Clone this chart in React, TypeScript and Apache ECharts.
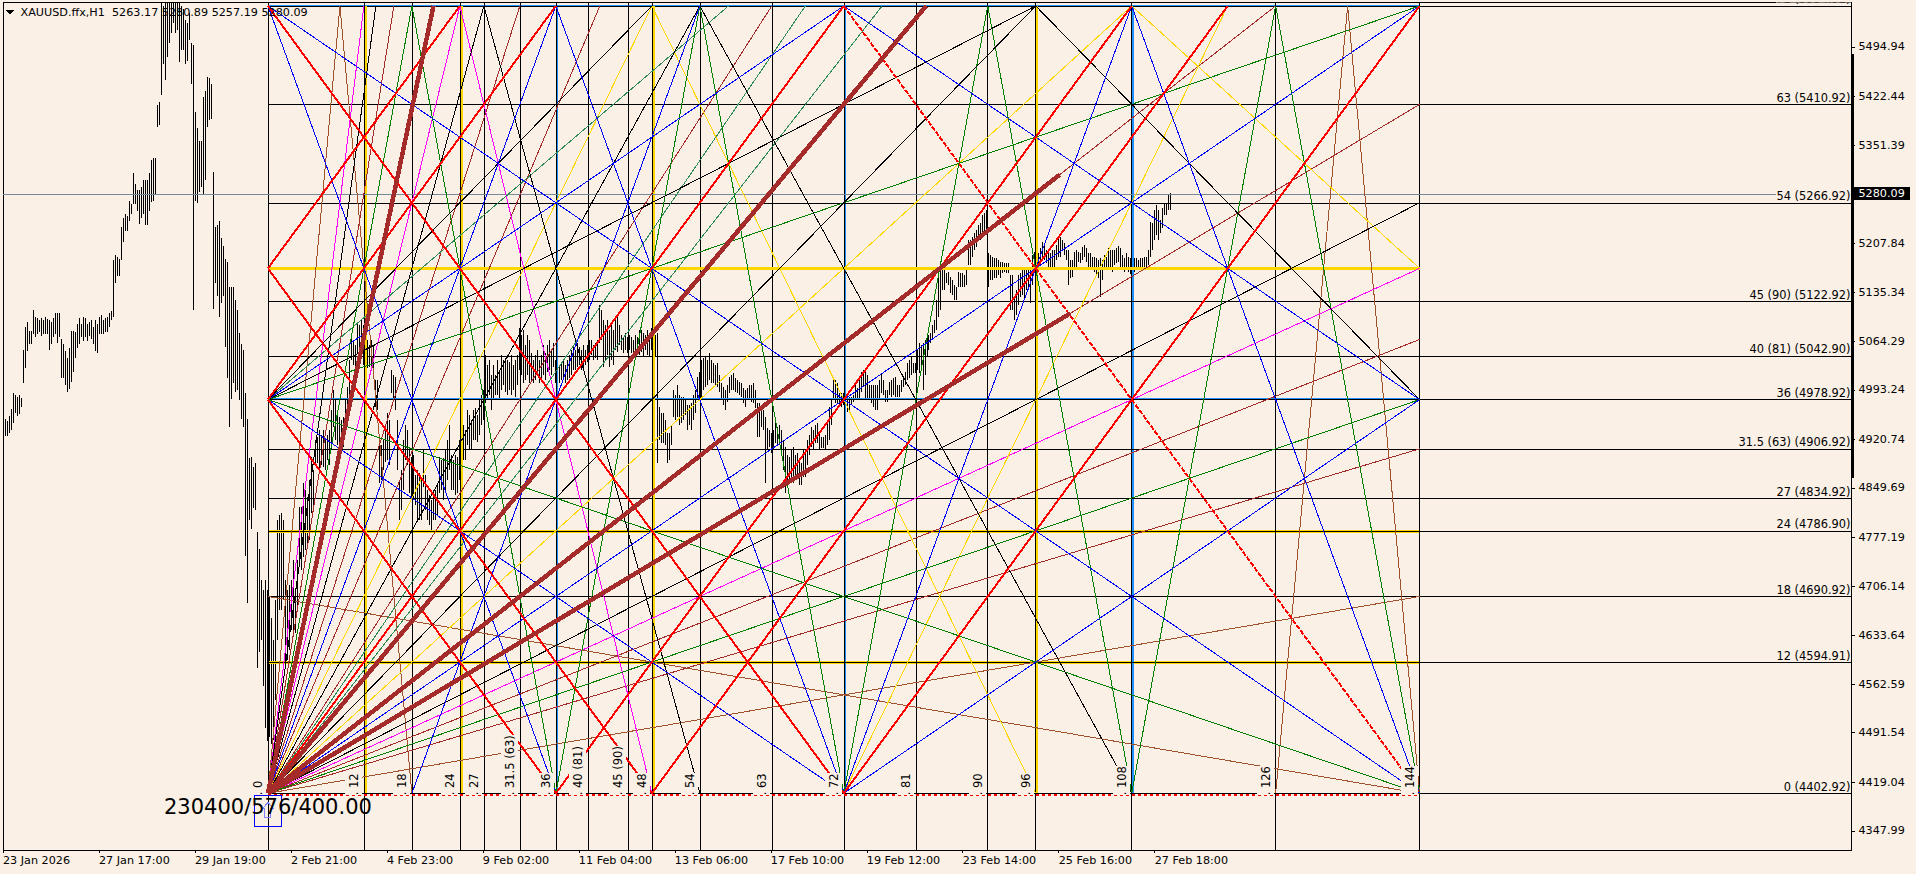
import React, { useEffect, useRef } from "react";
import * as echarts from "echarts";

const FONT = "'DejaVu Sans'";
const PAPER = "#faf0e6";

const xTickLabels = ["23 Jan 2026","27 Jan 17:00","29 Jan 19:00","2 Feb 21:00","4 Feb 23:00","9 Feb 02:00","11 Feb 04:00","13 Feb 06:00","17 Feb 10:00","19 Feb 12:00","23 Feb 14:00","25 Feb 16:00","27 Feb 18:00"];
const xTickBars = [0,48,96,144,192,240,288,336,384,432,480,528,576];
const yTicks = [5494.94,5422.44,5351.39,5207.84,5135.34,5064.29,4993.24,4920.74,4849.69,4777.19,4706.14,4633.64,4562.59,4491.54,4419.04,4347.99];
const lastPrice = 5280.09;
const legendText = "XAUUSD.ffx,H1  5263.17 5280.89 5257.19 5280.09";
const boxLabel = "230400/576/400.00";

const levelLabels = ["72 (5554.92)","63 (5410.92)","54 (5266.92)","45 (90) (5122.92)","40 (81) (5042.90)","36 (4978.92)","31.5 (63) (4906.92)","27 (4834.92)","24 (4786.90)","18 (4690.92)","12 (4594.91)","0 (4402.92)"];
const levelPrices = [5554.92,5410.92,5266.92,5122.92,5042.90,4978.92,4906.92,4834.92,4786.90,4690.92,4594.91,4402.92];
const timeLabels = ["0","12","18","24","27","31.5 (63)","36","40 (81)","45 (90)","48","54","63","72","81","90","96","108","126","144"];
const timeUnits = [0,12,18,24,27,31.5,36,40,45,48,54,63,72,81,90,96,108,126,144];

const basePrice = 4402.92;
const pricePerUnit = 16;
const barsPerUnit = 4;
const originBar = 132.5;
const xMax = 924.5;
const yMin = 4320;
const yMax = 5559.9;

// Gann lines as [t1, p1, t2, p2] in box units
const siennaLines = [[0,0,9,72],[9,72,18,0],[0,0,144,18],[0,18,144,0],[126,0,135,72],[135,72,144,0]];
const brownLines = [[0,0,15.75,72],[0,0,31.5,72],[0,0,41.5,72],[0,0,63,72],[0,0,126,72],[0,0,144,63],[0,0,144,41.5],[0,0,144,31.5]];
const magentaLines = [[0,0,12,72],[0,0,24,72],[24,72,48,0],[0,0,144,48]];
const goldLines = [[0,0,48,72],[48,72,96,0],[0,0,108,72],[108,72,144,48],[72,0,120,72]];
const seaGreenLines = [[0,0,67.2,72],[0,0,76.8,72],[0,36,57.6,72]];
const greenLines = [[0,0,18,72],[18,72,36,0],[36,0,54,72],[54,72,72,0],[72,0,90,72],[90,72,108,0],[108,0,126,72],[126,72,144,0],[0,0,144,36],[0,36,144,72],[0,36,144,0]];
const blackLines = [[0,0,13.5,72],[0,0,27,72],[27,72,54,0],[0,0,54,72],[54,72,108,0],[0,0,96,72],[0,36,96,72],[0,36,48,72],[96,72,144,36],[0,0,144,54]];
const blueLines = [[0,0,144,72],[0,0,36,72],[18,0,54,72],[72,0,108,72],[0,72,36,0],[0,72,144,0],[36,72,72,0],[108,72,144,0],[0,36,72,72],[0,36,72,0],[72,0,144,36],[72,72,144,36]];
const redLines = [[0,0,72,72],[0,36,36,72],[0,48,24,72],[36,0,108,72],[48,0,120,72],[72,0,144,72],[0,72,72,0],[0,48,48,0],[0,36,36,0]];
const redBrokenLines = [[72,72,144,0]];
const thickLines = [[0,0,20.7,72],[0,0,82.3,72],[0,0,99,56.57],[0,0,100.3,43.88]];

const goldVerticals = [12,24,48,96];
const blueVerticals = [36,72,108];
const goldHorizontals = [12,24];
const blueHorizontals = [36,72];
const thickGoldHorizontal = 48;

// high, low of each H1 bar
const barRanges = [
[4945,4915],[4950,4925],[4948,4925],[4955,4930],[4965,4935],[4988,4945],[4985,4960],[4983,4955],[4985,4958],[4982,4968],
[5052,5003],[5085,5025],[5092,5050],[5080,5060],[5080,5060],[5110,5075],[5100,5070],[5098,5075],[5095,5078],[5098,5072],
[5095,5075],[5100,5075],[5097,5075],[5095,5052],[5092,5060],[5098,5070],[5105,5075],[5105,5062],[5105,5070],[5068,5010],
[5060,5010],[5050,5000],[5040,4990],[5055,4995],[5080,5005],[5080,5020],[5078,5040],[5090,5055],[5098,5060],[5090,5070],
[5100,5065],[5098,5070],[5090,5065],[5092,5072],[5095,5068],[5085,5060],[5095,5050],[5090,5047],[5100,5075],[5102,5075],
[5095,5075],[5098,5078],[5100,5078],[5105,5085],[5108,5095],[5183,5100],[5190,5150],[5188,5160],[5185,5160],[5232,5183],
[5245,5210],[5250,5225],[5248,5225],[5270,5240],[5265,5250],[5310,5265],[5295,5265],[5285,5255],[5285,5236],[5290,5245],
[5300,5250],[5300,5235],[5300,5235],[5310,5255],[5330,5268],[5332,5270],[5333,5280],[5410,5378],[5415,5380],[5560,5425],
[5555,5470],[5560,5446],[5560,5480],[5560,5500],[5560,5515],[5560,5530],[5560,5515],[5560,5520],[5560,5473],[5555,5490],
[5550,5490],[5535,5470],[5530,5475],[5545,5505],[5500,5440],[5497,5110],[5400,5270],[5376,5266],[5358,5283],[5358,5290],
[5422,5280],[5430,5300],[5451,5378],[5449,5388],[5440,5390],[5312,5112],[5232,5149],[5235,5130],[5240,5100],[5215,5120],
[5203,5130],[5184,5056],[5180,5010],[5143,4939],[5143,4980],[5143,5003],[5125,4990],[5110,4993],[5076,4978],[5060,4950],
[5051,4939],[4988,4750],[4950,4681],[4893,4803],[4895,4790],[4880,4820],[4886,4817],[4785,4586],[4760,4610],[4715,4627],
[4700,4560],[4715,4498],[4700,4480],[4690,4485],[4660,4475],[4627,4481],[4686,4540],[4803,4627],[4810,4671],[4813,4671],
[4803,4686],[4715,4595],[4700,4598],[4708,4613],[4715,4642],[4745,4642],[4700,4637],[4745,4671],[4822,4740],[4822,4730],
[4857,4749],[4846,4759],[4836,4763],[4861,4774],[4895,4813],[4876,4817],[4920,4886],[4924,4886],[4935,4876],[4927,4883],
[4935,4880],[4920,4876],[4927,4890],[4935,4883],[4964,4905],[4993,4939],[4978,4920],[4956,4912],[4953,4910],[4949,4905],
[4953,4910],[4978,4927],[4998,4949],[5037,4978],[5070,5037],[5066,5030],[5059,5022],[5091,5047],[5088,5051],[5095,5047],
[5088,5030],[5085,5027],[5066,5025],[5059,5027],[5066,5022],[5059,5022],[5007,4968],[5007,4964],[4924,4857],[4912,4861],
[4920,4876],[4942,4888],[4959,4890],[4949,4883],[5022,4989],[5015,4978],[5012,4964],[4949,4876],[4861,4803],[4876,4817],
[4920,4847],[4942,4890],[4935,4883],[4910,4842],[4895,4836],[4898,4832],[4869,4825],[4876,4803],[4871,4803],[4861,4803],
[4905,4851],[4869,4817],[4846,4803],[4839,4796],[4832,4788],[4846,4803],[4846,4803],[4854,4810],[4895,4842],[4890,4847],
[4893,4832],[4905,4847],[4920,4861],[4942,4876],[4898,4847],[4890,4847],[4898,4839],[4895,4842],[4920,4861],[4905,4861],
[4942,4890],[4935,4890],[4964,4912],[4956,4905],[4949,4905],[4964,4920],[4967,4920],[4956,4917],[4978,4927],[4986,4942],
[4993,4949],[5044,4974],[5030,4978],[5037,4986],[5015,4964],[5030,4978],[5015,4986],[5037,4986],[5019,4978],[5044,4993],
[5037,5000],[5040,4990],[5037,4986],[5034,4993],[5044,4986],[5030,4993],[5037,4983],[5044,5000],[5084,5022],[5073,5015],
[5081,5003],[5059,5008],[5073,5015],[5066,5003],[5047,5008],[5037,5003],[5044,5008],[5052,5015],[5037,5003],[5044,5011],
[5059,5015],[5047,5008],[5059,5019],[5066,5022],[5052,5015],[5062,5027],[5037,5003],[5037,5008],[5030,5003],[5034,5008],
[5037,5011],[5030,5003],[5037,5008],[5044,5011],[5052,5015],[5059,5022],[5052,5022],[5062,5027],[5056,5030],[5052,5022],
[5059,5025],[5052,5030],[5059,5034],[5066,5037],[5066,5044],[5059,5037],[5062,5040],[5066,5037],[5117,5062],[5110,5066],
[5095,5027],[5088,5037],[5095,5044],[5081,5027],[5088,5037],[5081,5030],[5095,5052],[5100,5049],[5088,5059],[5073,5052],
[5070,5047],[5077,5052],[5070,5047],[5073,5052],[5070,5047],[5066,5049],[5073,5052],[5070,5047],[5081,5044],[5081,5049],
[5077,5041],[5073,5052],[5081,5044],[5077,5041],[5084,5052],[5077,5044],[5073,5041],[5077,4886],[4968,4920],[4959,4915],
[4959,4915],[4949,4912],[4930,4886],[4930,4891],[4942,4912],[4993,4953],[4986,4949],[5000,4953],[4986,4942],[4983,4945],
[4983,4949],[4978,4956],[4971,4935],[4971,4942],[4974,4935],[4986,4949],[4993,4959],[5012,4978],[5019,4978],[5037,4983],
[5040,4993],[5041,4997],[5037,5000],[5047,5008],[5037,5003],[5033,5003],[5030,5000],[5033,4997],[5015,4990],[5003,4978],
[4997,4971],[4993,4964],[5000,4975],[5012,4989],[5015,4993],[5018,4993],[5011,4990],[5008,4989],[5005,4986],[5003,4983],
[4996,4974],[4993,4968],[4996,4978],[5000,4978],[5000,4975],[5003,4974],[4993,4967],[4974,4924],[4974,4924],[4968,4939],
[4964,4935],[4953,4857],[4937,4905],[4935,4910],[4930,4901],[4935,4905],[4945,4915],[4939,4912],[4942,4915],[4935,4905],
[4920,4876],[4910,4842],[4898,4851],[4895,4857],[4905,4861],[4910,4857],[4898,4861],[4901,4866],[4891,4854],[4886,4854],
[4905,4866],[4905,4866],[4920,4883],[4927,4898],[4939,4910],[4935,4905],[4942,4915],[4945,4915],[4930,4905],[4924,4908],
[4924,4908],[4927,4905],[4949,4912],[4968,4920],[4978,4942],[5012,4978],[5008,4974],[5003,4974],[4989,4968],[4989,4968],
[4989,4971],[4983,4956],[4986,4961],[4983,4959],[4983,4971],[4986,4975],[5000,4978],[4996,4978],[5008,4981],[5019,4990],
[5022,4997],[5022,4978],[5015,4981],[5000,4978],[5000,4974],[5000,4968],[5000,4964],[5000,4964],[5008,4978],[5018,4989],
[5008,4986],[4993,4975],[4993,4975],[5005,4986],[5008,4983],[5011,4986],[5012,4983],[5000,4983],[5000,4983],[5008,4990],
[5012,4997],[5019,5000],[5033,5008],[5037,5011],[5041,5015],[5033,5018],[5033,5018],[5052,5022],[5062,5018],[5059,5022],
[5062,4993],[5066,5015],[5070,5041],[5073,5052],[5077,5062],[5088,5066],[5095,5077],[5125,5081],[5173,5100],[5173,5110],
[5179,5139],[5179,5139],[5164,5150],[5166,5147],[5158,5135],[5154,5132],[5147,5125],[5144,5125],[5166,5144],[5164,5144],
[5164,5144],[5161,5144],[5169,5147],[5212,5176],[5212,5176],[5217,5187],[5223,5198],[5227,5202],[5234,5212],[5237,5212],
[5249,5220],[5252,5223],[5256,5220],[5193,5144],[5190,5154],[5188,5154],[5186,5157],[5186,5157],[5183,5161],[5180,5157],
[5180,5164],[5179,5166],[5179,5164],[5179,5164],[5161,5110],[5161,5110],[5129,5095],[5139,5103],[5161,5117],[5164,5129],
[5171,5132],[5173,5125],[5171,5139],[5171,5139],[5173,5120],[5190,5147],[5195,5169],[5193,5171],[5193,5173],[5201,5180],
[5210,5188],[5205,5183],[5198,5179],[5195,5171],[5193,5169],[5198,5173],[5198,5173],[5205,5183],[5217,5187],[5217,5187],
[5212,5198],[5208,5190],[5198,5183],[5198,5147],[5183,5157],[5183,5158],[5195,5171],[5198,5173],[5195,5180],[5193,5179],
[5202,5183],[5205,5188],[5201,5180],[5193,5173],[5193,5173],[5188,5169],[5188,5166],[5186,5161],[5183,5157],[5186,5129],
[5183,5154],[5190,5173],[5188,5171],[5201,5173],[5198,5169],[5198,5166],[5198,5176],[5201,5179],[5204,5180],[5201,5171],
[5190,5169],[5186,5166],[5193,5171],[5188,5166],[5186,5163],[5188,5169],[5186,5166],[5186,5169],[5183,5169],[5186,5172],
[5186,5173],[5188,5169],[5188,5169],[5198,5176],[5239,5188],[5237,5198],[5256,5212],[5264,5220],[5256,5212],[5242,5223],
[5259,5230],[5267,5249],[5267,5249],[5278,5256],[5281,5257],
];

const unitSeg = (s) => ({ coords: [[originBar + barsPerUnit * s[0], basePrice + pricePerUnit * s[1]], [originBar + barsPerUnit * s[2], basePrice + pricePerUnit * s[3]]] });

const linesSeries = (name, color, width, segs, extra = {}) => ({
  type: "lines", name, coordinateSystem: "cartesian2d", polyline: false, silent: true,
  lineStyle: { color, width, opacity: 1, curveness: 0, ...(extra.lineType ? { type: extra.lineType } : {}) },
  data: segs, clip: extra.clip !== false, z: extra.z ?? 3,
});

export default function App() {
  const ref = useRef(null);
  useEffect(() => {
    document.body.style.margin = "0";
    document.body.style.background = PAPER;
    const chart = echarts.init(ref.current, undefined, { renderer: "svg" });

    const axisFont = { fontFamily: FONT, fontSize: 11.2, color: "#000" };
    const barSegs = barRanges.map((b, i) => ({ coords: [[i, b[0]], [i, b[1]]] }));
    const levelHoriz = levelPrices.map((p) => ({ coords: [[originBar, p], [xMax, p]] }));
    const timeVert = timeUnits.map((t) => ({ coords: [[originBar + barsPerUnit * t, yMin], [originBar + barsPerUnit * t, yMax]] }));
    const colVert = (ts, off) => ts.map((t) => ({ coords: [[originBar + barsPerUnit * t + off, basePrice], [originBar + barsPerUnit * t + off, basePrice + pricePerUnit * 72]] }));
    const colHoriz = (ps, d = 0) => ps.map((p) => ({ coords: [[originBar, basePrice + pricePerUnit * p + d], [originBar + barsPerUnit * 144, basePrice + pricePerUnit * p + d]] }));

    const option = {
      animation: false,
      backgroundColor: PAPER,
      grid: { left: 2.5, right: 64.5, top: 2.5, bottom: 24, show: true, backgroundColor: PAPER, borderColor: "#000", borderWidth: 1 },
      xAxis: {
        type: "value", min: 0, max: xMax, splitLine: { show: false },
        axisLine: { show: true, onZero: false, lineStyle: { color: "#000", width: 1 } },
        axisTick: { show: true, length: 3, customValues: xTickBars, lineStyle: { color: "#000" } },
        axisLabel: { ...axisFont, margin: 5, align: "left", customValues: xTickBars, formatter: (v) => xTickLabels[xTickBars.indexOf(Math.round(v))] ?? "" },
      },
      yAxis: {
        type: "value", position: "right", min: yMin, max: yMax, splitLine: { show: false },
        axisLine: { show: true, onZero: false, lineStyle: { color: "#000", width: 1 } },
        axisTick: { show: true, length: 3, customValues: yTicks, lineStyle: { color: "#000" } },
        axisLabel: { ...axisFont, margin: 7, customValues: yTicks, formatter: (v) => v.toFixed(2) },
      },
      series: [
        linesSeries("bars", "#000", 1, barSegs, { z: 2 }),
        linesSeries("goldH", "#ffd700", 3, colHoriz(goldHorizontals)),
        linesSeries("blueH", "#1e90ff", 2, colHoriz(blueHorizontals, 0.8)),
        linesSeries("blueV", "#1e90ff", 2, colVert(blueVerticals, 0.3)),
        linesSeries("levels", "#000", 1, levelHoriz),
        linesSeries("times", "#000", 1, timeVert),
        linesSeries("goldV", "#ffd700", 2, colVert(goldVerticals, 0.75)),
        linesSeries("goldThick", "#ffd700", 3, colHoriz([thickGoldHorizontal])),
        linesSeries("bid", "#778899", 1, [{ coords: [[0, lastPrice], [xMax, lastPrice]] }]),
        linesSeries("sienna", "#a0522d", 1, siennaLines.map(unitSeg)),
        linesSeries("brown", "#a52a2a", 1, brownLines.map(unitSeg)),
        linesSeries("magenta", "#ff00ff", 1, magentaLines.map(unitSeg)),
        linesSeries("gold", "#ffd700", 1, goldLines.map(unitSeg)),
        linesSeries("seagreen", "#2e8b57", 1, seaGreenLines.map(unitSeg)),
        linesSeries("green", "#008000", 1, greenLines.map(unitSeg)),
        linesSeries("black", "#000", 1, blackLines.map(unitSeg)),
        linesSeries("blue", "#0000ff", 1, blueLines.map(unitSeg)),
        linesSeries("red", "#ff0000", 2, redLines.map(unitSeg)),
        linesSeries("redBroken", "#ff0000", 2, redBrokenLines.map(unitSeg), { lineType: [5, 1.5] }),
        linesSeries("thick", "#a52a2a", 4.5, thickLines.map(unitSeg)),
        linesSeries("baseDots", "#ff0000", 2, [{ coords: [[originBar, basePrice - 1.8], [originBar + barsPerUnit * 144, basePrice - 1.8]] }], { lineType: [3, 3] }),
        linesSeries("axisBlock", "#000", 3, [{ coords: [[xMax + 0.5, 5484], [xMax + 0.5, 4864]] }], { clip: false, z: 4 }),
        {
          type: "custom", name: "levelLabels", coordinateSystem: "cartesian2d", clip: true, silent: true, z: 8,
          data: levelPrices.map((p) => [xMax, p]),
          renderItem: (params, api) => {
            const c = api.coord([api.value(0), api.value(1)]);
            return { type: "text", x: c[0] - 1, y: c[1] - 1, style: { text: levelLabels[params.dataIndex], fill: "#000", fontFamily: FONT, fontSize: 11.4, align: "right", verticalAlign: "bottom", backgroundColor: PAPER } };
          },
        },
        {
          type: "custom", name: "timeLabels", coordinateSystem: "cartesian2d", clip: true, silent: true, z: 8,
          data: timeUnits.map((t) => [originBar + barsPerUnit * t, basePrice]),
          renderItem: (params, api) => {
            const c = api.coord([api.value(0), api.value(1)]);
            return { type: "text", x: c[0] - 1.5, y: c[1] + 2, rotation: Math.PI / 2, style: { text: ". " + timeLabels[params.dataIndex], fill: "#000", fontFamily: FONT, fontSize: 11.5, align: "left", verticalAlign: "bottom", backgroundColor: PAPER, padding: [3, 0, 2, 0] } };
          },
        },
        {
          type: "custom", name: "boxMark", coordinateSystem: "cartesian2d", clip: true, silent: true, z: 9,
          data: [[originBar, basePrice]],
          renderItem: (params, api) => {
            const c = api.coord([api.value(0), api.value(1)]);
            return {
              type: "group",
              children: [
                { type: "rect", shape: { x: c[0] - 13.5, y: c[1] + 2, width: 27, height: 31 }, style: { fill: "none", stroke: "#0000ff", lineWidth: 1 } },
                { type: "polygon", shape: { points: [[c[0], c[1] + 9], [c[0] + 5, c[1] + 15], [c[0] + 3, c[1] + 15], [c[0] + 3, c[1] + 24], [c[0] - 3, c[1] + 24], [c[0] - 3, c[1] + 15], [c[0] - 5, c[1] + 15]] }, style: { fill: "none", stroke: "#8080ff", lineWidth: 1 } },
                { type: "text", x: c[0], y: c[1] + 14, style: { text: boxLabel, fill: "#000", fontFamily: FONT, fontSize: 21, align: "center", verticalAlign: "middle" } },
              ],
            };
          },
        },
        {
          type: "custom", name: "lastTag", coordinateSystem: "cartesian2d", clip: false, silent: true, z: 9,
          data: [[xMax, lastPrice]],
          renderItem: (params, api) => {
            const c = api.coord([api.value(0), api.value(1)]);
            return { type: "text", x: c[0] + 1, y: c[1], style: { text: lastPrice.toFixed(2), fill: "#fff", fontFamily: FONT, fontSize: 11.2, align: "left", verticalAlign: "middle", backgroundColor: "#000", padding: [1, 5, 1, 6] } };
          },
        },
      ],
      graphic: {
        elements: [
          { type: "polygon", z: 20, silent: true, shape: { points: [[6, 10], [14, 10], [10, 15]] }, style: { fill: "#000" } },
          { type: "text", z: 20, silent: true, x: 20.5, y: 12.5, style: { text: legendText, fill: "#000", fontFamily: FONT, fontSize: 11.2, align: "left", verticalAlign: "middle" } },
        ],
      },
    };
    chart.setOption(option);
    return () => chart.dispose();
  }, []);
  return (
    <>
      <style>{`#gann svg path{shape-rendering:crispEdges}`}</style>
      <div id="gann" ref={ref} style={{ position: "absolute", left: 0, top: 0, width: 1916, height: 874 }} />
    </>
  );
}
